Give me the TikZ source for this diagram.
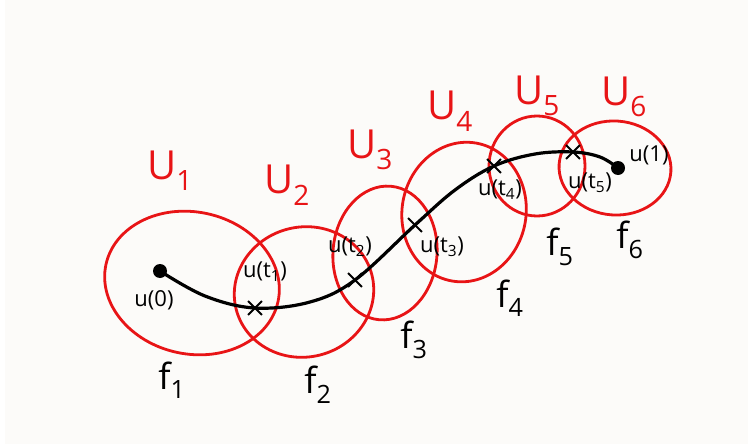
\documentclass[tikz,border=0pt]{standalone}
\usepackage{fontspec}
\setmainfont{Open Sans}
\usetikzlibrary{shapes.misc}
\definecolor{paper}{RGB}{252,251,249}
\definecolor{pen}{RGB}{232,20,22}
\begin{document}
\begin{tikzpicture}[x=1pt,y=-1pt,
  setline/.style={draw=pen,line width=2.8pt},
  pathline/.style={draw=black,line width=3.2pt,line cap=round},
  dotmark/.style={circle,fill=black,inner sep=0pt,minimum size=14pt},
  xmark/.style={cross out,draw=black,line width=1.8pt,inner sep=0pt,minimum size=12pt},
  setlabel/.style={text=pen,font=\fontsize{40}{40}\selectfont,inner sep=0pt},
  maplabel/.style={text=black,font=\fontsize{36}{36}\selectfont,inner sep=0pt},
  ptlabel/.style={text=black,font=\fontsize{22}{22}\selectfont,inner sep=0pt}]
\fill[white] (0,0) rectangle (752,444);
\fill[paper] (5,0) rectangle (748,444);
\useasboundingbox (0,0) rectangle (752,444);

% open sets
\coordinate (c1) at (192,283);
\coordinate (c2) at (304,292);
\coordinate (c3) at (385,253);
\coordinate (c4) at (464,212);
\coordinate (c5) at (537,166);
\coordinate (c6) at (615,168);
\draw[setline,rotate around={-12:(c1)}] (c1) ellipse [x radius=88pt,y radius=71pt];
\draw[setline,rotate around={14:(c2)}] (c2) ellipse [x radius=70pt,y radius=65pt];
\draw[setline,rotate around={-5:(c3)}] (c3) ellipse [x radius=52pt,y radius=67pt];
\draw[setline,rotate around={-10:(c4)}] (c4) ellipse [x radius=62pt,y radius=70pt];
\draw[setline] (c5) ellipse [x radius=48pt,y radius=50pt];
\draw[setline,rotate around={-4:(c6)}] (c6) ellipse [x radius=56pt,y radius=47pt];

% path and points
\node[dotmark] (u0) at (160,271) {};
\node[dotmark] (u1) at (618,168) {};
\node[xmark] (t1) at (255,308) {};
\node[xmark] (t2) at (355,280) {};
\node[xmark] (t3) at (415,225) {};
\node[xmark] (t4) at (494,166) {};
\node[xmark] (t5) at (573,152) {};
\coordinate (m0) at (205,296);
\coordinate (m1) at (310,302);
\coordinate (m3) at (455,190);
\coordinate (m4) at (535,154);
\coordinate (m5) at (600,157);
\draw[pathline] plot[smooth,tension=0.6] coordinates {(u0) (m0) (t1) (m1) (t2) (t3) (m3) (t4) (m4) (t5) (m5) (u1)};

% set labels
\node[setlabel] (lU1) at (170,171) {U\textsubscript{1}};
\node[setlabel] (lU2) at (287,185) {U\textsubscript{2}};
\node[setlabel] (lU3) at (370,150) {U\textsubscript{3}};
\node[setlabel] (lU4) at (450,111) {U\textsubscript{4}};
\node[setlabel] (lU5) at (537,96) {U\textsubscript{5}};
\node[setlabel] (lU6) at (624,97) {U\textsubscript{6}};

% map labels
\node[maplabel] (lf1) at (172,380) {f\textsubscript{1}};
\node[maplabel] (lf2) at (318,385) {f\textsubscript{2}};
\node[maplabel] (lf3) at (414,340) {f\textsubscript{3}};
\node[maplabel] (lf4) at (510,298) {f\textsubscript{4}};
\node[maplabel] (lf5) at (560,247) {f\textsubscript{5}};
\node[maplabel] (lf6) at (630,240) {f\textsubscript{6}};

% point labels
\node[ptlabel] (l0) at (154,300) {u(0)};
\node[ptlabel] (l1) at (265,272) {u(t\textsubscript{1})};
\node[ptlabel] (l2) at (350,247) {u(t\textsubscript{2})};
\node[ptlabel] (l3) at (442,247) {u(t\textsubscript{3})};
\node[ptlabel] (l4) at (500,190) {u(t\textsubscript{4})};
\node[ptlabel] (l5) at (590,183) {u(t\textsubscript{5})};
\node[ptlabel] (l6) at (649,155) {u(1)};
\end{tikzpicture}
\end{document}
